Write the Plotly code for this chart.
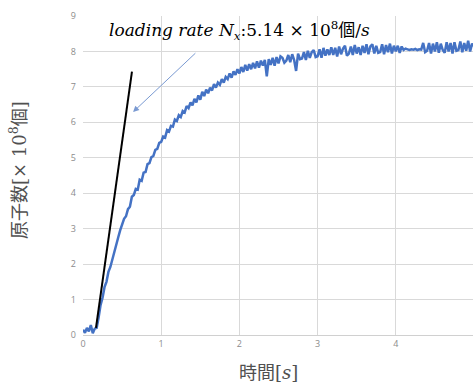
import plotly.graph_objects as go

# time step 0.025 s from 0 to 5.0
t_start = 0.0
t_step = 0.025
atoms = [
    0.15, 0.06, 0.20, 0.10, 0.28, 0.05, 0.18, 0.20,
    0.50, 0.85, 1.05, 1.35, 1.50, 1.78, 1.92, 2.15,
    2.30, 2.55, 2.75, 2.95, 3.10, 3.28, 3.35, 3.55,
    3.62, 3.90, 3.95, 4.12, 4.10, 4.38, 4.35, 4.58,
    4.60, 4.82, 4.85, 5.02, 5.05, 5.22, 5.25, 5.42,
    5.45, 5.60, 5.57, 5.78, 5.74, 5.90, 5.88, 6.08,
    6.04, 6.20, 6.15, 6.32, 6.28, 6.46, 6.40, 6.56,
    6.48, 6.66, 6.56, 6.76, 6.64, 6.86, 6.74, 6.92,
    6.82, 6.98, 6.90, 7.08, 6.98, 7.12, 7.06, 7.22,
    7.12, 7.28, 7.22, 7.38, 7.26, 7.44, 7.34, 7.50,
    7.38, 7.56, 7.42, 7.62, 7.46, 7.64, 7.50, 7.68,
    7.52, 7.72, 7.54, 7.74, 7.60, 7.76, 7.30, 7.78,
    7.62, 7.82, 7.60, 7.84, 7.66, 7.86, 7.82, 7.68,
    7.74, 7.90, 7.70, 7.92, 7.76, 7.45, 7.94, 7.78,
    7.80, 7.98, 7.76, 8.02, 7.82, 7.98, 8.04, 7.84,
    7.86, 8.06, 7.82, 8.10, 7.88, 8.06, 7.90, 8.12,
    7.90, 8.10, 7.86, 8.14, 7.92, 8.08, 8.16, 7.88,
    7.94, 8.14, 7.90, 8.18, 7.94, 8.12, 7.90, 8.16,
    7.96, 8.20, 7.92, 8.14, 8.20, 7.94, 8.16, 7.96,
    7.98, 8.20, 7.92, 8.18, 7.98, 8.22, 7.94, 8.16,
    8.00, 8.16, 7.96, 8.14, 8.04, 8.08, 8.06, 8.04,
    8.06, 8.05, 8.07, 8.04, 8.06, 8.05, 8.24, 7.98,
    8.02, 8.24, 7.94, 8.22, 8.00, 8.26, 7.96, 8.22,
    8.04, 7.96, 8.26, 8.00, 8.24, 7.94, 8.26, 8.02,
    8.04, 8.28, 7.98, 8.24, 8.02, 8.30, 8.00, 8.22,
    8.15,
]
time = [round(t_start + i * t_step, 3) for i in range(len(atoms))]

# loading-rate fit line
fit_t = [0.166, 0.626]
fit_n = [0.20, 7.43]

# arrow (tail -> head)
arrow_tail = (1.456, 7.99)
arrow_head = (0.64, 6.29)
label_pos = (2.0, 8.63)

x_ticks = [0, 1, 2, 3, 4, 5]
y_ticks = [0, 1, 2, 3, 4, 5, 6, 7, 8, 9]

SERIF = "font-family:'DejaVu Serif'"

fig = go.Figure()
fig.add_trace(go.Scatter(x=time, y=atoms, mode="lines",
                         line=dict(color="#4472c4", width=2.5), showlegend=False))
fig.add_trace(go.Scatter(x=fit_t, y=fit_n, mode="lines",
                         line=dict(color="#000000", width=2), showlegend=False))

fig.add_annotation(x=arrow_head[0], y=arrow_head[1], ax=arrow_tail[0], ay=arrow_tail[1],
                   xref="x", yref="y", axref="x", ayref="y", text="",
                   showarrow=True, arrowhead=2, arrowsize=1.2, arrowwidth=1,
                   arrowcolor="#7a9ad2")
fig.add_annotation(x=label_pos[0], y=label_pos[1], xref="x", yref="y", showarrow=False,
                   text="<i>loading rate N</i><sub><i>x</i></sub>:5.14 × 10<sup>8</sup>"
                        "<span style=\"font-family:'Noto Sans CJK JP'\">個</span>/<i>s</i>",
                   font=dict(family="DejaVu Serif, Noto Sans CJK JP", size=17, color="#000000"))

# axis titles
fig.add_annotation(xref="paper", yref="paper", x=0, y=0, xanchor="center", yanchor="middle",
                   xshift=185, yshift=-36, showarrow=False,
                   text=f"時間<span style=\"{SERIF}\">[<i>s</i>]</span>",
                   font=dict(family="Noto Sans CJK JP", size=18, color="#505050"))
fig.add_annotation(xref="paper", yref="paper", x=0, y=0.517, xanchor="center", yanchor="middle",
                   xshift=-65, textangle=-90, showarrow=False,
                   text=f"原子数<span style=\"{SERIF}\">[× 10<sup>8</sup></span>個<span style=\"{SERIF}\">]</span>",
                   font=dict(family="Noto Sans CJK JP", size=18, color="#505050"))

fig.update_layout(
    width=473, height=383,
    margin=dict(l=83, r=0, t=16, b=48),
    paper_bgcolor="white", plot_bgcolor="white",
    font=dict(family="Noto Sans CJK JP"),
    xaxis=dict(range=[0, 4.987], tickvals=x_ticks, showgrid=True, gridcolor="#d9d9d9",
               gridwidth=1, zeroline=False, showline=True, linecolor="#d0d0d0",
               automargin=False,
               tickfont=dict(family="Open Sans", size=9, color="#8c8c8c"),
               ticks=""),
    yaxis=dict(range=[0, 9], tickvals=y_ticks, showgrid=True, gridcolor="#d9d9d9",
               gridwidth=1, zeroline=False, showline=False, automargin=False,
               tickfont=dict(family="Open Sans", size=9, color="#8c8c8c"),
               ticks="", ticklabelstandoff=6),
)

fig.write_html("out.html", config={"displayModeBar": False},
               post_script="document.body.style.margin='0';")
